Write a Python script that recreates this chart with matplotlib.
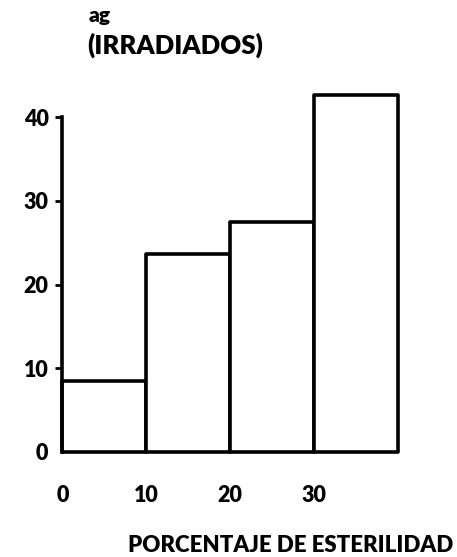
import matplotlib
matplotlib.use("Agg")
import matplotlib.pyplot as plt

# Data
bin_edges = [0, 10, 20, 30]
bin_width = 10
values = [8.5, 23.7, 27.5, 42.7]
x_ticks = [0, 10, 20, 30]
y_ticks = [0, 10, 20, 30, 40]
top_label = "ag"
series_label = "(IRRADIADOS)"
x_label = "PORCENTAJE DE ESTERILIDAD"

FONT = "Lato"
plt.rcParams['font.family'] = [FONT, 'DejaVu Sans']

fig = plt.figure(figsize=(4.57, 5.57), dpi=100)
# y=0 at ~452 px from top, ~8.37 px per unit; top of axes at 46 units
ax = fig.add_axes([0.131, 105 / 557, 0.748, (46 * 8.37) / 557])

ax.bar(bin_edges, values, width=bin_width, align='edge', color='white',
       edgecolor='black', linewidth=2.6, joinstyle='round', clip_on=False)

ax.set_xlim(-0.3, 40.5)
ax.set_ylim(0, 46)

for s in ['top', 'right', 'bottom']:
    ax.spines[s].set_visible(False)
ax.spines['left'].set_linewidth(2.6)
ax.spines['left'].set_bounds(0, 40)
ax.spines['left'].set_position(('data', 0))

ax.set_yticks(y_ticks)
ax.set_yticklabels([str(v) for v in y_ticks], fontsize=15.5, fontweight='heavy')
ax.tick_params(axis='y', length=5, width=2, pad=5, direction='out')
ax.yaxis.get_major_ticks()[0].tick1line.set_visible(False)

ax.set_xticks(x_ticks)
ax.set_xticklabels([str(v) for v in x_ticks], fontsize=15.5, fontweight='heavy')
ax.tick_params(axis='x', length=0, pad=24)

fig.text(0.195, 0.972, top_label, fontsize=15, fontweight='heavy', va='center', ha='left')
fig.text(0.190, 0.919, series_label, fontsize=18.5, fontweight='heavy', va='center', ha='left')
fig.text(0.992, 0.020, x_label, fontsize=16, fontweight='heavy', va='center', ha='right')

fig.savefig("out.png", dpi=100)
